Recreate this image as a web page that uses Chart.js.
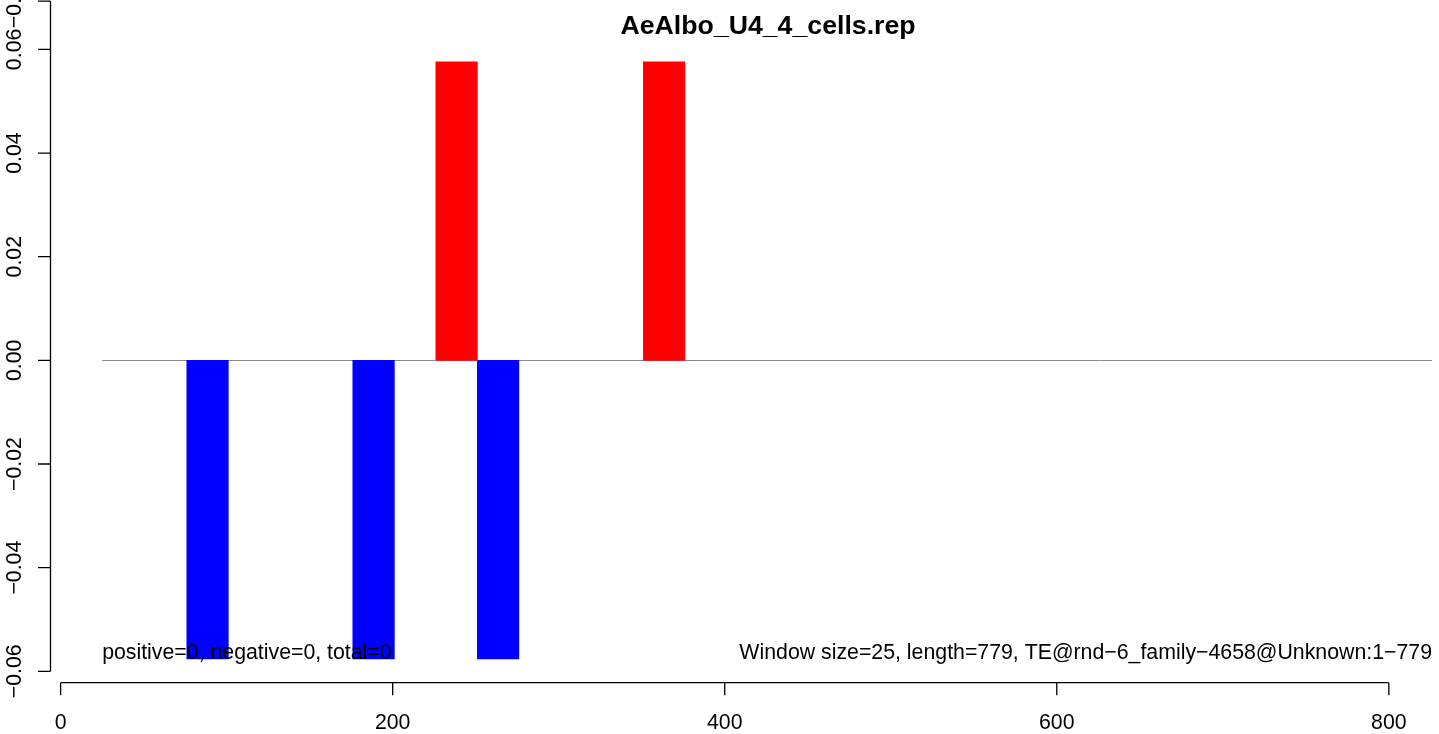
<!DOCTYPE html>
<html>
<head>
<meta charset="utf-8">
<script src="https://cdn.jsdelivr.net/npm/chart.js@4/dist/chart.umd.min.js"></script>
<style>
  html, body { margin: 0; padding: 0; background: #ffffff; }
  #c { display: block; }
</style>
</head>
<body>
<canvas id="c" width="1439" height="734"></canvas>
<script>
// ---- data ----
const chartTitle = "AeAlbo_U4_4_cells.rep";
const windowSize = 25;
const positiveStarts = [226, 351];
const positiveValues = [0.0576, 0.0576];
const negativeStarts = [76, 176, 251];
const negativeValues = [-0.0576, -0.0576, -0.0576];
const xTicks = [0, 200, 400, 600, 800];
const xTickLabels = ["0", "200", "400", "600", "800"];
const yTicks = [-0.06, -0.04, -0.02, 0.00, 0.02, 0.04, 0.06, 0.0693];
const yTickLabels = ["\u22120.06", "\u22120.04", "\u22120.02", "0.00", "0.02", "0.04", "0.06", "\u22120.06"];
const zeroLineRange = [25, 900];
const leftNote = "positive=0, negative=0, total=0";
const rightNote = "Window size=25, length=779, TE@rnd\u22126_family\u22124658@Unknown:1\u2212779";

const FONT = "'Liberation Sans', Arial, Helvetica, sans-serif";

const toPoints = (starts, vals) => starts.map((s, i) => ({ x: s + windowSize / 2, y: vals[i] }));

const rAxesPlugin = {
  id: 'rAxes',
  beforeDraw(chart) {
    const ctx = chart.ctx;
    ctx.save();
    ctx.fillStyle = '#ffffff';
    ctx.fillRect(0, 0, chart.width, chart.height);
    ctx.restore();
  },
  beforeDatasetsDraw(chart) {
    const ctx = chart.ctx;
    const xs = chart.scales.x, ys = chart.scales.y, a = chart.chartArea;
    ctx.save();
    ctx.strokeStyle = '#8a8a8a';
    ctx.lineWidth = 1;
    const y0 = Math.round(ys.getPixelForValue(0)) + 0.5;
    const xa = xs.getPixelForValue(zeroLineRange[0]);
    const xb = Math.min(xs.getPixelForValue(zeroLineRange[1]), a.right);
    ctx.beginPath();
    ctx.moveTo(xa, y0);
    ctx.lineTo(xb, y0);
    ctx.stroke();
    ctx.restore();
  },
  afterDatasetsDraw(chart) {
    const ctx = chart.ctx;
    const xs = chart.scales.x, ys = chart.scales.y, a = chart.chartArea;
    ctx.save();
    ctx.strokeStyle = '#000000';
    ctx.fillStyle = '#000000';
    ctx.lineWidth = 1.3;
    // x axis
    const axY = a.bottom;
    const x0 = xs.getPixelForValue(xTicks[0]);
    const x1 = xs.getPixelForValue(xTicks[xTicks.length - 1]);
    ctx.beginPath();
    ctx.moveTo(x0, axY); ctx.lineTo(x1, axY);
    xTicks.forEach(t => {
      const px = xs.getPixelForValue(t);
      ctx.moveTo(px, axY); ctx.lineTo(px, axY + 12.5);
    });
    ctx.stroke();
    ctx.font = '21.3px ' + FONT;
    ctx.textAlign = 'center';
    ctx.textBaseline = 'alphabetic';
    xTicks.forEach((t, i) => {
      ctx.fillText(xTickLabels[i], xs.getPixelForValue(t), 729);
    });
    // y axis
    const axX = a.left;
    const yTop = ys.getPixelForValue(Math.max(...yTicks));
    const yBot = ys.getPixelForValue(Math.min(...yTicks));
    ctx.beginPath();
    ctx.moveTo(axX, yTop); ctx.lineTo(axX, yBot);
    yTicks.forEach(t => {
      const py = ys.getPixelForValue(t);
      ctx.moveTo(axX, py); ctx.lineTo(axX - 12.5, py);
    });
    ctx.stroke();
    yTicks.forEach((t, i) => {
      const py = ys.getPixelForValue(t);
      ctx.save();
      ctx.translate(20.5, py);
      ctx.rotate(-Math.PI / 2);
      ctx.textAlign = 'center';
      ctx.textBaseline = 'alphabetic';
      ctx.fillText(yTickLabels[i], 0, 0);
      ctx.restore();
    });
    // notes
    ctx.textAlign = 'left';
    ctx.fillText(leftNote, xs.getPixelForValue(25), 659);
    ctx.textAlign = 'right';
    ctx.fillText(rightNote, a.right, 659);
    // title
    ctx.font = 'bold 26.7px ' + FONT;
    ctx.textAlign = 'center';
    ctx.fillText(chartTitle, 768, 34);
    ctx.restore();
  }
};

new Chart(document.getElementById('c'), {
  type: 'bar',
  data: {
    datasets: [
      {
        label: 'positive',
        data: toPoints(positiveStarts, positiveValues),
        backgroundColor: '#ff0000',
        borderWidth: 0,
        grouped: false,
        barPercentage: 1,
        categoryPercentage: 1
      },
      {
        label: 'negative',
        data: toPoints(negativeStarts, negativeValues),
        backgroundColor: '#0000ff',
        borderWidth: 0,
        grouped: false,
        barPercentage: 1,
        categoryPercentage: 1
      }
    ]
  },
  options: {
    responsive: false,
    devicePixelRatio: 1,
    animation: false,
    layout: { padding: { left: 50.5, right: 7, top: 38, bottom: 51.3 } },
    plugins: { legend: { display: false }, title: { display: false }, tooltip: { enabled: false } },
    scales: {
      x: { type: 'linear', min: -6.1, max: 826, display: false, offset: false },
      y: { type: 'linear', min: -0.0622, max: 0.0622, display: false }
    }
  },
  plugins: [rAxesPlugin]
});
</script>
</body>
</html>
